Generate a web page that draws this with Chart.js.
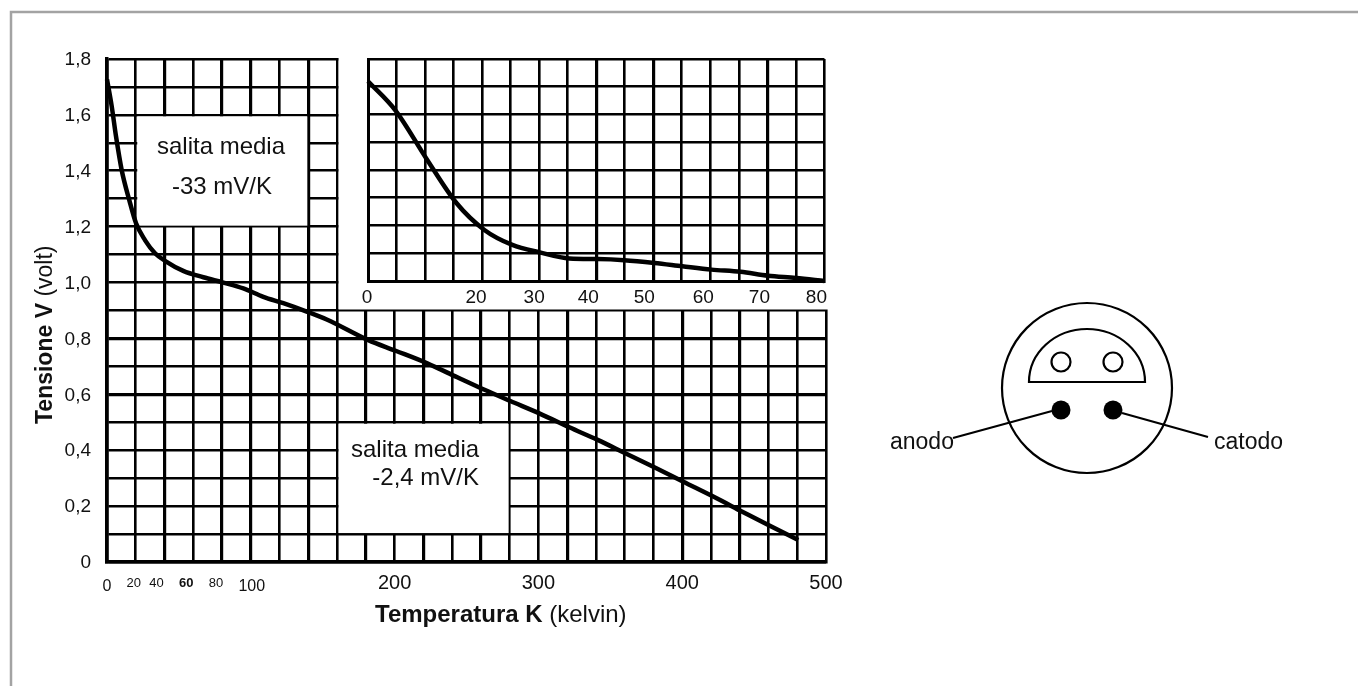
<!DOCTYPE html>
<html>
<head>
<meta charset="utf-8">
<script src="https://cdn.jsdelivr.net/npm/chart.js@4/dist/chart.umd.js"></script>
<style>
  html, body { margin: 0; padding: 0; background: #fff; overflow: hidden; }
  #wrap { position: relative; width: 1358px; height: 686px; }
  #wrap canvas { position: absolute; }
</style>
</head>
<body>
<div id="wrap">
  <canvas id="mainChart" width="1358" height="686" style="left:0;top:0"></canvas>
  <canvas id="insetChart" width="500" height="270" style="left:340px;top:40px"></canvas>
</div>
<script>
// Main curve, 0-500 K
const mainTemp = [0, 3.3, 6.3, 10.2, 15.5, 20.2, 26.4, 33.4, 40.3, 53, 67, 80.9, 94.8, 108.7, 122.6, 138.9, 152.8,
  181.7, 200.7, 222.7, 243.6, 261.7, 280.5, 300.6, 321.5, 341.2, 359.7, 380.6, 400.8, 421.6, 441.8, 459.9, 480.7];
const mainVolt = [1.727, 1.63, 1.522, 1.403, 1.295, 1.212, 1.152, 1.105, 1.078, 1.042, 1.019, 1.0, 0.979, 0.949, 0.926, 0.896, 0.868,
  0.794, 0.756, 0.711, 0.661, 0.618, 0.576, 0.532, 0.482, 0.437, 0.391, 0.339, 0.287, 0.234, 0.18, 0.132, 0.079];

// Inset curve, 0-80 K
const insetTemp = [0, 4.8, 10.3, 15.5, 20.4, 25.3, 30.1, 35.3, 40.3, 44.9, 50.2, 55.1, 60.2, 65.3, 70.1, 75, 80];
const insetVolt = [1.72, 1.615, 1.439, 1.281, 1.184, 1.13, 1.103, 1.081, 1.079, 1.075, 1.065, 1.053, 1.041, 1.033, 1.019, 1.011, 1.0];

// Tick labels
const mainXLabels = [0, 20, 40, 60, 80, 100, 200, 300, 400, 500];
const insetXLabels = [0, 20, 30, 40, 50, 60, 70, 80];

const FONT = '"Liberation Sans", Arial, sans-serif';

function commaTick(v) {
  const tenths = Math.round(v * 10);
  if (tenths % 2 !== 0) return '';
  return tenths === 0 ? '0' : (tenths / 10).toFixed(1).replace('.', ',');
}

// the tick labels in the original sit off their grid lines, so move them per label
const nudgeLabels = {
  id: 'nudgeLabels',
  beforeDraw(chart, args, opts) {
    const move = (item, n) => {
      if (!item.base) item.base = item.options.translation.slice();
      item.options.translation = [item.base[0] + n[0], item.base[1] + n[1]];
    };
    chart.scales.x.getLabelItems().forEach(item => {
      if (opts.nudge[item.label]) move(item, opts.nudge[item.label]);
    });
    if (opts.yShift) chart.scales.y.getLabelItems().forEach(item => move(item, [0, opts.yShift]));
  }
};

function text(ctx, str, x, y, font, align) {
  ctx.font = font;
  ctx.textAlign = align || 'left';
  ctx.textBaseline = 'middle';
  ctx.fillStyle = '#111';
  ctx.fillText(str, x, y);
}

// Blank areas of the grid: text boxes and the place of the inset
const gridMasks = {
  id: 'gridMasks',
  beforeDatasetsDraw(chart) {
    const { ctx, scales: { x, y } } = chart;
    const boxes = [
      [20, 140, 1.6, 1.2],
      [160, 280, 0.5, 0.1]
    ];
    ctx.save();
    ctx.fillStyle = '#fff';
    boxes.forEach(b => {
      const l = x.getPixelForValue(b[0]) + 1.5, r = x.getPixelForValue(b[1]) - 1;
      const t = y.getPixelForValue(b[2]) + 1.5, bt = y.getPixelForValue(b[3]) - 1;
      ctx.fillRect(l, t, r - l, bt - t);
    });
    const ml = x.getPixelForValue(160) + 1.5;
    ctx.fillRect(ml, y.top - 4, x.right + 4 - ml, y.getPixelForValue(0.9) - 1 - y.top + 4);
    ctx.restore();
  }
};

const annotations = {
  id: 'annotations',
  afterDraw(chart) {
    const { ctx } = chart;
    ctx.save();

    // page frame, only top and left
    ctx.strokeStyle = '#a3a3a3';
    ctx.lineWidth = 2.5;
    ctx.beginPath();
    ctx.moveTo(11, 686);
    ctx.lineTo(11, 12);
    ctx.lineTo(1358, 12);
    ctx.stroke();

    // box texts
    text(ctx, 'salita media', 221, 147, '24px ' + FONT, 'center');
    text(ctx, '-33 mV/K', 222, 187, '24px ' + FONT, 'center');
    text(ctx, 'salita media', 351, 450, '24px ' + FONT);
    text(ctx, '-2,4 mV/K', 479, 478, '24px ' + FONT, 'right');

    // axis titles with bold and regular part
    const boldX = 'bold 24px ' + FONT, regX = '24px ' + FONT;
    ctx.font = boldX;
    const w1 = ctx.measureText('Temperatura K ').width;
    text(ctx, 'Temperatura K ', 375, 615, boldX);
    text(ctx, '(kelvin)', 375 + w1, 615, regX);

    const boldY = 'bold 23px ' + FONT, regY = '23px ' + FONT;
    ctx.save();
    ctx.translate(46, 424);
    ctx.rotate(-Math.PI / 2);
    ctx.font = boldY;
    const w2 = ctx.measureText('Tensione V ').width;
    text(ctx, 'Tensione V ', 0, 0, boldY);
    text(ctx, '(volt)', w2, 0, regY);
    ctx.restore();

    // diode pinout
    ctx.strokeStyle = '#000';
    ctx.fillStyle = '#000';
    ctx.lineWidth = 2.2;
    ctx.beginPath();
    ctx.arc(1087, 388, 85, 0, Math.PI * 2);
    ctx.stroke();
    ctx.beginPath();
    ctx.ellipse(1087, 382, 58, 53, 0, Math.PI, 0);
    ctx.closePath();
    ctx.stroke();
    [1061, 1113].forEach(cx => {
      ctx.beginPath();
      ctx.arc(cx, 362, 9.5, 0, Math.PI * 2);
      ctx.stroke();
      ctx.beginPath();
      ctx.arc(cx, 410, 9.5, 0, Math.PI * 2);
      ctx.fill();
    });
    ctx.beginPath();
    ctx.moveTo(953, 438);
    ctx.lineTo(1052, 411);
    ctx.moveTo(1122, 413);
    ctx.lineTo(1208, 437);
    ctx.stroke();
    text(ctx, 'anodo', 890, 443, '23px ' + FONT);
    text(ctx, 'catodo', 1214, 443, '23px ' + FONT);

    ctx.restore();
  }
};

const mainThickX = [40, 80, 100, 140, 180, 220, 260, 320, 400, 440];
const mainThickY = [0.8, 0.6];

new Chart(document.getElementById('mainChart'), {
  type: 'line',
  data: {
    datasets: [{
      data: mainTemp.map((t, i) => ({ x: t, y: mainVolt[i] })),
      borderColor: '#000',
      borderWidth: 4.5,
      pointRadius: 0,
      cubicInterpolationMode: 'monotone',
      clip: false
    }]
  },
  plugins: [gridMasks, annotations, nudgeLabels],
  options: {
    responsive: false,
    animation: false,
    events: [],
    layout: { padding: { left: 60, right: 532, top: 59, bottom: 84 } },
    plugins: {
      legend: { display: false },
      tooltip: { enabled: false },
      nudgeLabels: {
        yShift: 1,
        nudge: { '20': [-2, 5], '40': [-8, 5], '60': [-7, 5], '80': [-6, 5], '100': [1, 6], '0': [0, 6] }
      }
    },
    scales: {
      x: {
        type: 'linear',
        min: 0,
        max: 500,
        afterFit: s => { s.height = 40; },
        border: { display: true, color: '#000', width: 3.5 },
        grid: {
          color: '#000',
          drawTicks: false,
          lineWidth: c => (c.tick && mainThickX.includes(c.tick.value)) ? 3.2 : 2.6
        },
        afterBuildTicks: s => {
          s.ticks = [];
          for (let v = 0; v <= 500; v += 20) s.ticks.push({ value: v });
        },
        ticks: {
          autoSkip: false,
          maxRotation: 0,
          padding: 9,
          color: '#111',
          callback: v => mainXLabels.includes(v) ? String(v) : '',
          font: c => {
            const v = c.tick ? c.tick.value : 200;
            if (v >= 200) return { family: FONT, size: 20 };
            if (v === 0 || v === 100) return { family: FONT, size: 16 };
            return { family: FONT, size: 13, weight: v === 60 ? 'bold' : 'normal' };
          }
        }
      },
      y: {
        min: 0,
        max: 1.8,
        afterFit: s => { s.width = 47; },
        border: { display: true, color: '#000', width: 3.5 },
        grid: {
          color: '#000',
          drawTicks: false,
          lineWidth: c => (c.tick && mainThickY.includes(Math.round(c.tick.value * 10) / 10)) ? 3.2 : 2.6
        },
        ticks: {
          stepSize: 0.1,
          autoSkip: false,
          padding: 16,
          color: '#111',
          font: { family: FONT, size: 19 },
          callback: commaTick
        }
      }
    }
  }
});

const insetThickX = [40, 50, 70];

new Chart(document.getElementById('insetChart'), {
  type: 'line',
  data: {
    datasets: [{
      data: insetTemp.map((t, i) => ({ x: t, y: insetVolt[i] })),
      borderColor: '#000',
      borderWidth: 4.5,
      pointRadius: 0,
      cubicInterpolationMode: 'monotone',
      clip: false
    }]
  },
  plugins: [nudgeLabels],
  options: {
    responsive: false,
    animation: false,
    events: [],
    layout: { padding: { left: 28, right: 14, top: 19, bottom: 0 } },
    plugins: {
      legend: { display: false },
      tooltip: { enabled: false },
      nudgeLabels: {
        nudge: { '0': [-1, 0], '20': [-6, 0], '30': [-5, 0], '40': [-8, 0], '50': [-9, 0], '60': [-7, 0], '70': [-8, 0], '80': [-8, 0] }
      }
    },
    scales: {
      x: {
        type: 'linear',
        min: 0,
        max: 80,
        afterFit: s => { s.height = 29; },
        border: { display: true, color: '#000', width: 3 },
        grid: {
          color: '#000',
          drawTicks: false,
          lineWidth: c => (c.tick && insetThickX.includes(c.tick.value)) ? 3.2 : 2.6
        },
        afterBuildTicks: s => {
          s.ticks = [];
          for (let v = 0; v <= 80; v += 5) s.ticks.push({ value: v });
        },
        ticks: {
          autoSkip: false,
          maxRotation: 0,
          padding: 5,
          color: '#111',
          font: { family: FONT, size: 19 },
          callback: v => insetXLabels.includes(v) ? String(v) : ''
        }
      },
      y: {
        min: 1.0,
        max: 1.8,
        afterFit: s => { s.width = 0; },
        border: { display: true, color: '#000', width: 3 },
        grid: { color: '#000', drawTicks: false, lineWidth: 2.6 },
        ticks: { stepSize: 0.1, display: false }
      }
    }
  }
});
</script>
</body>
</html>
